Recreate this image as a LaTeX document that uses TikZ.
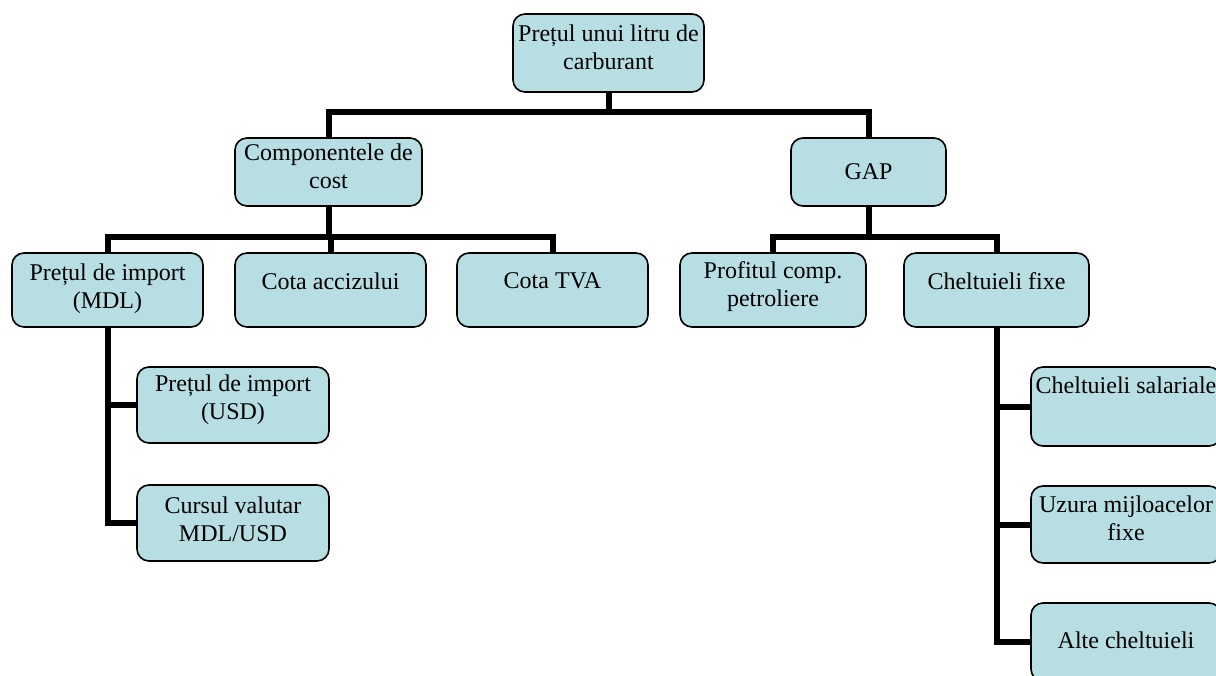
\documentclass[tikz,border=0pt]{standalone}
\usepackage{fontspec}
\setmainfont{Liberation Serif}
\usetikzlibrary{backgrounds}
\definecolor{boxfill}{RGB}{183,222,227}
\begin{document}
\begin{tikzpicture}[x=1pt,y=-1pt,
  box/.style={draw=black, line width=1.6pt, fill=boxfill, rounded corners=12pt, inner sep=0pt},
  lbl/.style={align=center, font=\fontsize{24}{28}\selectfont, inner sep=0pt},
  conn/.style={line width=6pt, line join=miter}]
\clip (0,0) rectangle (1216,676);
\useasboundingbox (0,0) rectangle (1216,676);
% boxes
\node[box, minimum width=191pt, minimum height=78pt] (top) at (608.5,53) {};
\node[box, minimum width=187pt, minimum height=68pt] (comp) at (328.5,172) {};
\node[box, minimum width=155pt, minimum height=68pt] (gap) at (868.5,172) {};
\node[box, minimum width=191pt, minimum height=74pt] (mdl) at (107.5,290) {};
\node[box, minimum width=191pt, minimum height=74pt] (acciz) at (330.5,290) {};
\node[box, minimum width=191pt, minimum height=74pt] (tva) at (552.5,290) {};
\node[box, minimum width=186pt, minimum height=74pt] (prof) at (773,290) {};
\node[box, minimum width=185pt, minimum height=74pt] (fixe) at (996.5,290) {};
\node[box, minimum width=192pt, minimum height=76pt] (usd) at (233,405) {};
\node[box, minimum width=192pt, minimum height=76pt] (curs) at (233,523) {};
\node[box, minimum width=190pt, minimum height=79pt] (sal) at (1126,406.5) {};
\node[box, minimum width=190pt, minimum height=77pt] (uzura) at (1126,524.5) {};
\node[box, minimum width=190pt, minimum height=78pt] (alte) at (1126,642) {};
% labels
\node[lbl] at (608.5,47) {Prețul unui litru de\\carburant};
\node[lbl] at (328.5,166) {Componentele de\\cost};
\node[lbl] at (868.5,172) {GAP};
\node[lbl] at (107.5,288.5) {Prețul de import\\(MDL)};
\node[lbl] at (330.5,281) {Cota accizului};
\node[lbl] at (552.5,281) {Cota TVA};
\node[lbl] at (773,287) {Profitul comp.\\petroliere};
\node[lbl] at (996.5,281) {Cheltuieli fixe};
\node[lbl] at (233,400) {Prețul de import\\(USD)};
\node[lbl] at (233,519.5) {Cursul valutar\\MDL/USD};
\node[lbl] at (1126,385) {Cheltuieli salariale};
\node[lbl] at (1126,518) {Uzura mijloacelor\\fixe};
\node[lbl] at (1126,640) {Alte cheltuieli};
% connectors
\coordinate (bar1) at (0,112);
\coordinate (bar2) at (0,237);
\begin{pgfonlayer}{background}
\draw[conn] (top.south) -- (top.south |- bar1);
\draw[conn] (comp.north) -- (comp.north |- bar1) -- (gap.north |- bar1) -- (gap.north);
\draw[conn] (comp.south) -- (comp.south |- bar2);
\draw[conn] (mdl.north) -- (mdl.north |- bar2) -- (tva.north |- bar2) -- (tva.north);
\draw[conn] (acciz.north) -- (acciz.north |- bar2);
\draw[conn] (gap.south) -- (gap.south |- bar2);
\draw[conn] (prof.north) -- (prof.north |- bar2) -- (fixe.north |- bar2) -- (fixe.north);
\draw[conn] (mdl.south) -- (mdl.south |- curs.west) -- (curs.west);
\draw[conn] (mdl.south |- usd.west) -- (usd.west);
\draw[conn] (fixe.south) -- (fixe.south |- alte.west) -- (alte.west);
\draw[conn] (fixe.south |- sal.west) -- (sal.west);
\draw[conn] (fixe.south |- uzura.west) -- (uzura.west);
\end{pgfonlayer}
\end{tikzpicture}
\end{document}
